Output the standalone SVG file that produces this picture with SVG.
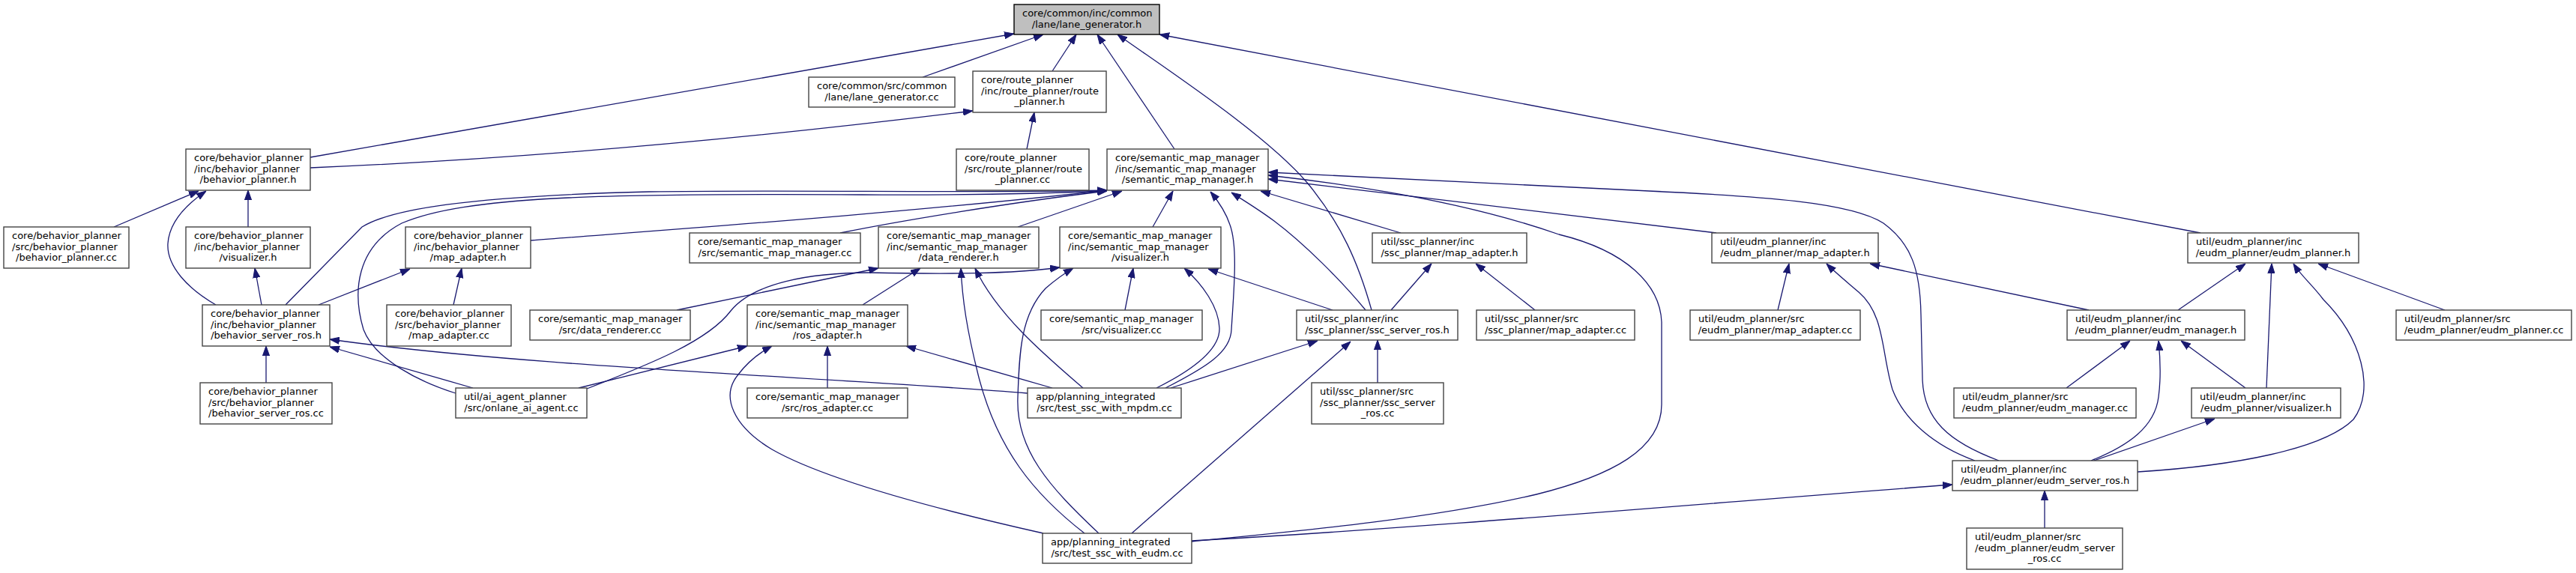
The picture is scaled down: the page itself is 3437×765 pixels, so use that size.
<svg xmlns="http://www.w3.org/2000/svg" width="3437" height="765" viewBox="0 0 3437 765">
<style>
.node rect{fill:#ffffff;stroke:#444444;stroke-width:1.4}
.node rect.root{fill:#bfbfbf;stroke:#000000}
.node text{font-family:"DejaVu Sans","Liberation Sans",sans-serif;font-size:13px;fill:#000000;text-anchor:start}
.node text.c{text-anchor:middle}
#edges path{fill:none;stroke:#191970;stroke-width:1.3;marker-end:url(#ah)}
</style>
<defs>
<marker id="ah" viewBox="0 0 13 10" refX="13" refY="5" markerWidth="13" markerHeight="10" markerUnits="userSpaceOnUse" orient="auto">
<path d="M0,0.4 L13,5 L0,9.6 Z" fill="#191970" stroke="#191970" stroke-width="1"/>
</marker>
</defs>
<rect x="0" y="0" width="3437" height="765" fill="#ffffff"/>
<g id="edges">
<path d="M414,210 L1353,45"/>
<path d="M1231,103 L1392,46"/>
<path d="M1404,95 L1436,46"/>
<path d="M1567,199 L1464,46"/>
<path d="M1830,414 C1812,350 1790,300 1745,245 C1690,180 1560,95 1491,46"/>
<path d="M2936,311 L1547,46"/>
<path d="M414,224 C700,212 1000,185 1298,148"/>
<path d="M1370,199 L1380,150"/>
<path d="M152,303 L265,255"/>
<path d="M331,303 L331,254"/>
<path d="M288,407 C250,385 222,355 224,325 C226,295 250,272 275,255"/>
<path d="M349,407 L340,358"/>
<path d="M425,407 L547,359"/>
<path d="M355,511 L355,462"/>
<path d="M605,407 L616,358"/>
<path d="M631,518 L440,463"/>
<path d="M1371,525 C1100,503 700,490 440,453"/>
<path d="M903,414 L1172,358"/>
<path d="M783,519 C870,485 945,455 975,415 C1005,378 1080,364 1160,364 C1260,366 1350,366 1414,357"/>
<path d="M772,518 L997,462"/>
<path d="M608,525 C560,510 500,480 485,440 C470,390 475,330 536,298 C620,262 800,258 1150,260 C1300,261 1400,258 1477,255"/>
<path d="M381,407 L483,303 C520,280 620,262 866,256 C1050,253 1300,258 1477,254"/>
<path d="M708,321 C900,306 1200,285 1477,254"/>
<path d="M1121,311 C1200,295 1350,270 1477,255"/>
<path d="M1358,303 L1497,255"/>
<path d="M1538,303 L1565,255"/>
<path d="M1555,518 C1610,490 1642,470 1643,440 C1646,390 1652,330 1641,300 C1635,282 1625,268 1615,256"/>
<path d="M1822,414 C1790,375 1740,325 1700,295 C1680,280 1660,268 1643,257"/>
<path d="M1869,311 L1682,255"/>
<path d="M2290,311 L1692,239"/>
<path d="M2667,615 C2600,590 2566,560 2565,505 L2563,420 C2562,360 2550,325 2513,298 C2470,270 2350,262 2200,255 L1692,230"/>
<path d="M1590,723 C1700,712 1900,695 2050,660 C2150,635 2217,600 2217,540 L2217,430 C2215,380 2170,335 2080,313 C2000,285 1880,255 1692,234"/>
<path d="M1151,407 L1228,358"/>
<path d="M1445,518 C1395,475 1330,420 1301,358"/>
<path d="M1447,712 C1380,660 1330,600 1305,500 C1290,440 1284,400 1282,358"/>
<path d="M1466,712 C1400,650 1355,600 1358,530 C1360,470 1362,420 1395,385 C1410,372 1420,365 1432,358"/>
<path d="M1501,414 L1512,358"/>
<path d="M1543,518 C1595,492 1628,465 1627,438 C1626,410 1605,380 1580,358"/>
<path d="M1778,414 L1612,359"/>
<path d="M1104,518 L1104,462"/>
<path d="M1404,518 L1209,462"/>
<path d="M1392,712 C1250,680 1100,640 1030,600 C980,570 960,530 985,500 C1000,480 1015,470 1030,462"/>
<path d="M1562,518 L1758,455"/>
<path d="M1510,712 L1802,456"/>
<path d="M1838,511 L1838,454"/>
<path d="M1856,414 L1910,352"/>
<path d="M2048,414 L1969,352"/>
<path d="M2372,414 L2387,352"/>
<path d="M2635,615 C2580,595 2540,560 2525,520 C2510,470 2515,420 2480,390 C2465,377 2450,365 2437,352"/>
<path d="M2787,414 L2495,352"/>
<path d="M2906,414 L2996,352"/>
<path d="M3024,518 L3031,352"/>
<path d="M2852,630 C2980,622 3100,600 3140,560 C3170,520 3150,450 3100,400 C3085,380 3070,368 3060,352"/>
<path d="M3262,414 L3093,352"/>
<path d="M2757,518 L2842,455"/>
<path d="M2996,518 L2910,455"/>
<path d="M2790,615 C2840,595 2875,570 2880,530 C2884,500 2882,475 2880,455"/>
<path d="M2794,615 L2955,559"/>
<path d="M1590,722 C1900,705 2300,670 2605,647"/>
<path d="M2728,705 L2728,655"/>
</g>
<g id="n-lane_generator_h" class="node"><rect class="root" x="1353" y="6" width="194" height="40"/><text x="1364" y="22">core/common/inc/common</text><text class="c" x="1450" y="36.7">/lane/lane_generator.h</text></g>
<g id="n-lane_generator_cc" class="node"><rect x="1079" y="103" width="195" height="40"/><text x="1090" y="119">core/common/src/common</text><text class="c" x="1176.5" y="133.7">/lane/lane_generator.cc</text></g>
<g id="n-route_planner_h" class="node"><rect x="1298" y="95" width="178" height="55"/><text x="1309" y="111">core/route_planner</text><text x="1309" y="125.7">/inc/route_planner/route</text><text class="c" x="1387" y="140.3">_planner.h</text></g>
<g id="n-route_planner_cc" class="node"><rect x="1276" y="199" width="177" height="55"/><text x="1287" y="215">core/route_planner</text><text x="1287" y="229.7">/src/route_planner/route</text><text class="c" x="1364.5" y="244.3">_planner.cc</text></g>
<g id="n-behavior_planner_h" class="node"><rect x="248" y="199" width="166" height="55"/><text x="259" y="215">core/behavior_planner</text><text x="259" y="229.7">/inc/behavior_planner</text><text class="c" x="331" y="244.3">/behavior_planner.h</text></g>
<g id="n-behavior_planner_cc" class="node"><rect x="5" y="303" width="167" height="55"/><text x="16" y="319">core/behavior_planner</text><text x="16" y="333.7">/src/behavior_planner</text><text class="c" x="88.5" y="348.3">/behavior_planner.cc</text></g>
<g id="n-bp_visualizer_h" class="node"><rect x="248" y="303" width="166" height="55"/><text x="259" y="319">core/behavior_planner</text><text x="259" y="333.7">/inc/behavior_planner</text><text class="c" x="331" y="348.3">/visualizer.h</text></g>
<g id="n-bp_map_adapter_h" class="node"><rect x="541" y="303" width="167" height="55"/><text x="552" y="319">core/behavior_planner</text><text x="552" y="333.7">/inc/behavior_planner</text><text class="c" x="624.5" y="348.3">/map_adapter.h</text></g>
<g id="n-behavior_server_ros_h" class="node"><rect x="270" y="407" width="170" height="55"/><text x="281" y="423">core/behavior_planner</text><text x="281" y="437.7">/inc/behavior_planner</text><text class="c" x="355" y="452.3">/behavior_server_ros.h</text></g>
<g id="n-behavior_server_ros_cc" class="node"><rect x="267" y="511" width="176" height="55"/><text x="278" y="527">core/behavior_planner</text><text x="278" y="541.7">/src/behavior_planner</text><text class="c" x="355" y="556.3">/behavior_server_ros.cc</text></g>
<g id="n-bp_map_adapter_cc" class="node"><rect x="516" y="407" width="166" height="55"/><text x="527" y="423">core/behavior_planner</text><text x="527" y="437.7">/src/behavior_planner</text><text class="c" x="599" y="452.3">/map_adapter.cc</text></g>
<g id="n-onlane_ai_agent_cc" class="node"><rect x="608" y="518" width="175" height="40"/><text x="619" y="534">util/ai_agent_planner</text><text class="c" x="695.5" y="548.7">/src/onlane_ai_agent.cc</text></g>
<g id="n-semantic_map_manager_h" class="node"><rect x="1477" y="199" width="215" height="55"/><text x="1488" y="215">core/semantic_map_manager</text><text x="1488" y="229.7">/inc/semantic_map_manager</text><text class="c" x="1584.5" y="244.3">/semantic_map_manager.h</text></g>
<g id="n-semantic_map_manager_cc" class="node"><rect x="920" y="311" width="228" height="40"/><text x="931" y="327">core/semantic_map_manager</text><text class="c" x="1034" y="341.7">/src/semantic_map_manager.cc</text></g>
<g id="n-data_renderer_h" class="node"><rect x="1172" y="303" width="214" height="55"/><text x="1183" y="319">core/semantic_map_manager</text><text x="1183" y="333.7">/inc/semantic_map_manager</text><text class="c" x="1279" y="348.3">/data_renderer.h</text></g>
<g id="n-smm_visualizer_h" class="node"><rect x="1414" y="303" width="215" height="55"/><text x="1425" y="319">core/semantic_map_manager</text><text x="1425" y="333.7">/inc/semantic_map_manager</text><text class="c" x="1521.5" y="348.3">/visualizer.h</text></g>
<g id="n-data_renderer_cc" class="node"><rect x="707" y="414" width="214" height="40"/><text x="718" y="430">core/semantic_map_manager</text><text class="c" x="814" y="444.7">/src/data_renderer.cc</text></g>
<g id="n-ros_adapter_h" class="node"><rect x="997" y="407" width="214" height="55"/><text x="1008" y="423">core/semantic_map_manager</text><text x="1008" y="437.7">/inc/semantic_map_manager</text><text class="c" x="1104" y="452.3">/ros_adapter.h</text></g>
<g id="n-ros_adapter_cc" class="node"><rect x="997" y="518" width="214" height="40"/><text x="1008" y="534">core/semantic_map_manager</text><text class="c" x="1104" y="548.7">/src/ros_adapter.cc</text></g>
<g id="n-smm_visualizer_cc" class="node"><rect x="1389" y="414" width="215" height="40"/><text x="1400" y="430">core/semantic_map_manager</text><text class="c" x="1496.5" y="444.7">/src/visualizer.cc</text></g>
<g id="n-test_ssc_with_mpdm_cc" class="node"><rect x="1371" y="518" width="205" height="40"/><text x="1382" y="534">app/planning_integrated</text><text class="c" x="1473.5" y="548.7">/src/test_ssc_with_mpdm.cc</text></g>
<g id="n-test_ssc_with_eudm_cc" class="node"><rect x="1391" y="712" width="199" height="40"/><text x="1402" y="728">app/planning_integrated</text><text class="c" x="1490.5" y="742.7">/src/test_ssc_with_eudm.cc</text></g>
<g id="n-ssc_map_adapter_h" class="node"><rect x="1831" y="311" width="206" height="40"/><text x="1842" y="327">util/ssc_planner/inc</text><text class="c" x="1934" y="341.7">/ssc_planner/map_adapter.h</text></g>
<g id="n-ssc_server_ros_h" class="node"><rect x="1730" y="414" width="215" height="40"/><text x="1741" y="430">util/ssc_planner/inc</text><text class="c" x="1837.5" y="444.7">/ssc_planner/ssc_server_ros.h</text></g>
<g id="n-ssc_map_adapter_cc" class="node"><rect x="1970" y="414" width="211" height="40"/><text x="1981" y="430">util/ssc_planner/src</text><text class="c" x="2075.5" y="444.7">/ssc_planner/map_adapter.cc</text></g>
<g id="n-ssc_server_ros_cc" class="node"><rect x="1750" y="511" width="176" height="55"/><text x="1761" y="527">util/ssc_planner/src</text><text x="1761" y="541.7">/ssc_planner/ssc_server</text><text class="c" x="1838" y="556.3">_ros.cc</text></g>
<g id="n-eudm_map_adapter_h" class="node"><rect x="2284" y="311" width="222" height="40"/><text x="2295" y="327">util/eudm_planner/inc</text><text class="c" x="2395" y="341.7">/eudm_planner/map_adapter.h</text></g>
<g id="n-eudm_planner_h" class="node"><rect x="2919" y="311" width="228" height="40"/><text x="2930" y="327">util/eudm_planner/inc</text><text class="c" x="3033" y="341.7">/eudm_planner/eudm_planner.h</text></g>
<g id="n-eudm_map_adapter_cc" class="node"><rect x="2255" y="414" width="227" height="40"/><text x="2266" y="430">util/eudm_planner/src</text><text class="c" x="2368.5" y="444.7">/eudm_planner/map_adapter.cc</text></g>
<g id="n-eudm_manager_h" class="node"><rect x="2758" y="414" width="237" height="40"/><text x="2769" y="430">util/eudm_planner/inc</text><text class="c" x="2876.5" y="444.7">/eudm_planner/eudm_manager.h</text></g>
<g id="n-eudm_manager_cc" class="node"><rect x="2607" y="518" width="243" height="40"/><text x="2618" y="534">util/eudm_planner/src</text><text class="c" x="2728.5" y="548.7">/eudm_planner/eudm_manager.cc</text></g>
<g id="n-eudm_visualizer_h" class="node"><rect x="2924" y="518" width="199" height="40"/><text x="2935" y="534">util/eudm_planner/inc</text><text class="c" x="3023.5" y="548.7">/eudm_planner/visualizer.h</text></g>
<g id="n-eudm_planner_cc" class="node"><rect x="3197" y="414" width="234" height="40"/><text x="3208" y="430">util/eudm_planner/src</text><text class="c" x="3314" y="444.7">/eudm_planner/eudm_planner.cc</text></g>
<g id="n-eudm_server_ros_h" class="node"><rect x="2605" y="615" width="247" height="40"/><text x="2616" y="631">util/eudm_planner/inc</text><text class="c" x="2728.5" y="645.7">/eudm_planner/eudm_server_ros.h</text></g>
<g id="n-eudm_server_ros_cc" class="node"><rect x="2624" y="705" width="208" height="55"/><text x="2635" y="721">util/eudm_planner/src</text><text x="2635" y="735.7">/eudm_planner/eudm_server</text><text class="c" x="2728" y="750.3">_ros.cc</text></g>
</svg>
